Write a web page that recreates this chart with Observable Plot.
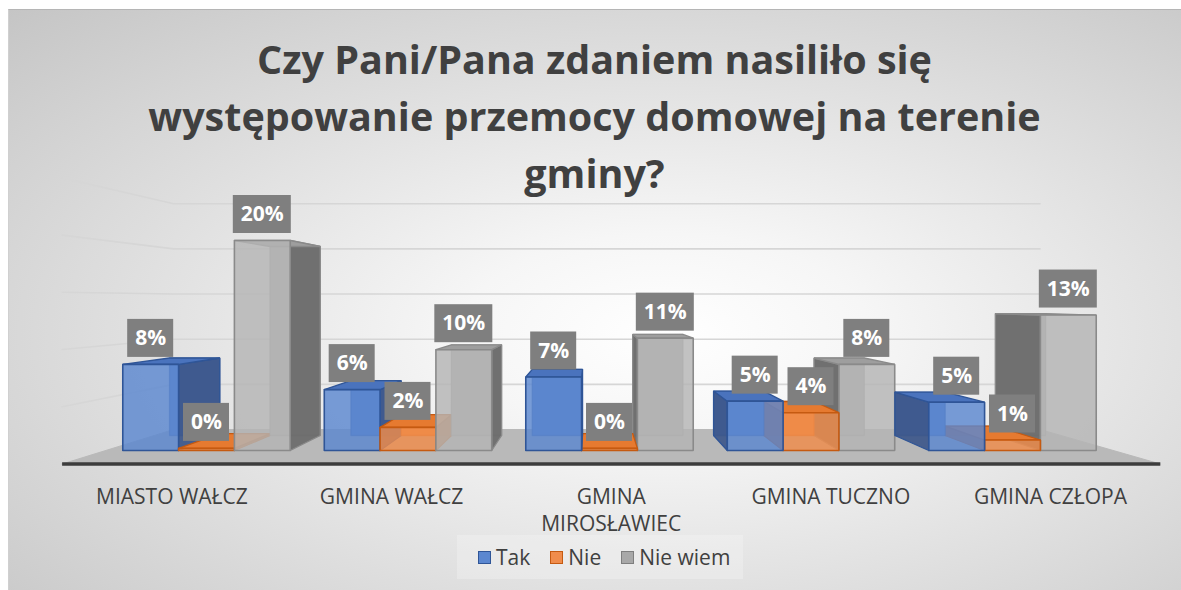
<!DOCTYPE html>
<html><head><meta charset="utf-8">
<script src="https://cdn.jsdelivr.net/npm/d3@7"></script>
<script src="https://cdn.jsdelivr.net/npm/@observablehq/plot@0.6"></script>
<style>
html,body{margin:0;padding:0;background:#fff;}
body{width:1181px;height:590px;overflow:hidden;position:relative;font-family:"Open Sans",sans-serif;}
#frame{position:absolute;left:8px;top:9px;width:1173px;height:581px;box-sizing:border-box;
 border-top:1px solid #b5b5b5;border-left:1px solid #d0d0d0;
 background:radial-gradient(ellipse farthest-corner at 56% 56%, #ffffff 0%, #f6f6f6 22%, #dedede 60%, #c5c5c5 100%);}
#title{position:absolute;left:4px;top:31px;width:1181px;text-align:center;font-weight:700;font-size:39.5px;line-height:57px;color:#404040;}
#chart{position:absolute;left:0;top:170px;}
#legendbox{position:absolute;left:457px;top:535px;width:286px;height:44px;background:rgba(250,250,250,0.3);}
#legend{position:absolute;left:478px;top:543px;height:28px;display:flex;align-items:center;font-size:21px;color:#404040;white-space:nowrap;}
#legend .sw{display:inline-block;width:11px;height:11px;border:1.5px solid;margin-right:5px;}
#legend .it{display:flex;align-items:center;margin-right:20px;}
</style></head>
<body>
<div id="frame"></div>
<div id="title">Czy Pani/Pana zdaniem nasiliło się<br>występowanie przemocy domowej na terenie<br>gminy?</div>
<div id="chart"></div>
<div id="legendbox"></div>
<div id="legend"></div>
<script>
// ---- data ----
const categories = ["MIASTO WAŁCZ", "GMINA WAŁCZ", "GMINA MIROSŁAWIEC", "GMINA TUCZNO", "GMINA CZŁOPA"];
const seriesNames = ["Tak", "Nie", "Nie wiem"];
const tak = [8.2, 5.8, 7.0, 4.7, 4.6];
const nie = [0.2, 2.2, 0.2, 3.6, 1.0];
const nieWiem = [20.0, 9.6, 10.7, 8.2, 12.9];
const gridTicks = [5, 10, 15, 20, 25];

// ---- styles ----
const frontColors = ["#5b87d0", "#f08c4b", "#b5b5b5"];
const backColors = ["#5a80c6", "#ea8440", "#adadad"];
const sideColors = ["#3d578a", "#c8631d", "#6a6a6a"];
const topColors = ["#4a73bd", "#e67a30", "#9e9e9e"];
const strokeColors = ["#2f5597", "#c55a11", "#8a8a8a"];
const legendFill = ["#5b87d0", "#f08c4b", "#a8a8a8"];
const legendStroke = ["#2f5597", "#c55a11", "#7f7f7f"];

const values = [tak, nie, nieWiem];

// perspective helpers (data space)
const PXX = 201.5, PXY = 10.5;          // px per data unit (x, y)
const VX = (590 - 206) / PXX, VY = (450 - 300) / PXY;
const S_BAR = 0.9, S_FB = 0.86, S_FF = 1.09;
const BW = 0.277;
const P = (x, y, s) => ({x: VX + (x - VX) * s, y: VY + (y - VY) * s});
const poly = (pts) => [...pts, pts[0]];

const marks = [];

// gridlines (left wall + back wall)
const gridData = gridTicks.flatMap(t => [P(-0.5, t, S_FF), P(-0.5, t, S_FB), P(4.5, t, S_FB)].map(p => ({...p, t})));
marks.push(Plot.line(gridData, {x: "x", y: "y", z: "t", stroke: "#d6d6d6", strokeWidth: 1.6}));

// floor
marks.push(Plot.line(poly([P(-0.5, 0, S_FF), P(4.5, 0, S_FF), P(4.5, 0, S_FB), P(-0.5, 0, S_FB)]),
  {x: "x", y: "y", fill: "#b9b9b9", stroke: "#b9b9b9", strokeWidth: 1}));
marks.push(Plot.line([P(-0.5, 0, S_FF), P(4.5, 0, S_FF)], {x: "x", y: "y", stroke: "#3c3c3c", strokeWidth: 3.5, strokeLinecap: "butt"}));

// bars
const labels = [];
categories.forEach((c, i) => {
  const center = i;
  const order = center < VX ? [0, 1, 2] : [2, 1, 0];
  order.forEach(j => {
    const v = values[j][i];
    const x0 = i + (j - 1) * BW - BW / 2, x1 = x0 + BW;
    const cx = (x0 + x1) / 2;
    const sx = cx < VX ? x1 : x0;
    const st = {x: "x", y: "y", stroke: strokeColors[j], strokeWidth: 1.3, strokeLinejoin: "miter"};
    marks.push(Plot.line(poly([P(x0, 0, S_BAR), P(x1, 0, S_BAR), P(x1, v, S_BAR), P(x0, v, S_BAR)]),
      {...st, fill: backColors[j], strokeOpacity: 0.6}));
    marks.push(Plot.line(poly([P(sx, 0, 1), P(sx, 0, S_BAR), P(sx, v, S_BAR), P(sx, v, 1)]),
      {...st, fill: sideColors[j], fillOpacity: 0.92}));
    marks.push(Plot.line(poly([P(x0, v, 1), P(x1, v, 1), P(x1, v, S_BAR), P(x0, v, S_BAR)]),
      {...st, fill: topColors[j]}));
    marks.push(Plot.line(poly([P(x0, 0, 1), P(x1, 0, 1), P(x1, v, 1), P(x0, v, 1)]),
      {...st, fill: frontColors[j], fillOpacity: 0.82, strokeWidth: 1.6}));
    const txt = Math.round(v) + "%";
    const hw = (22 + 12 * txt.length) / 2 / PXX;
    const cy = v + 26 / PXY;
    labels.push({x: cx, y: cy, x1: cx - hw, x2: cx + hw, y1: cy - 19 / PXY, y2: cy + 19 / PXY, text: txt});
  });
});

marks.push(Plot.rect(labels, {x1: "x1", x2: "x2", y1: "y1", y2: "y2", fill: "#7f7f7f"}));
marks.push(Plot.text(labels, {x: "x", y: "y", text: "text", fill: "white", fontSize: 21, fontWeight: "bold"}));

// category labels
const catData = categories.map((c, i) => ({x: P(i, 0, S_FF).x, y: (280 - 314) / PXY, c}));
marks.push(Plot.text(catData, {x: "x", y: "y", text: "c", fontSize: 21, fill: "#404040", lineAnchor: "top", lineWidth: 9.5, lineHeight: 1.3}));

const chart = Plot.plot({
  width: 1181, height: 365, margin: 0,
  x: {type: "linear", domain: [0, 4], range: [206, 1012], axis: null},
  y: {type: "linear", domain: [0, 20], range: [280, 70], axis: null},
  style: {background: "transparent", overflow: "visible", fontFamily: "'Open Sans', sans-serif"},
  marks
});
document.getElementById("chart").appendChild(chart);

// legend
const lg = document.getElementById("legend");
seriesNames.forEach((s, j) => {
  const it = document.createElement("span"); it.className = "it";
  const sw = document.createElement("span"); sw.className = "sw";
  sw.style.background = legendFill[j]; sw.style.borderColor = legendStroke[j];
  it.appendChild(sw); it.appendChild(document.createTextNode(s));
  lg.appendChild(it);
});
</script>
</body></html>
